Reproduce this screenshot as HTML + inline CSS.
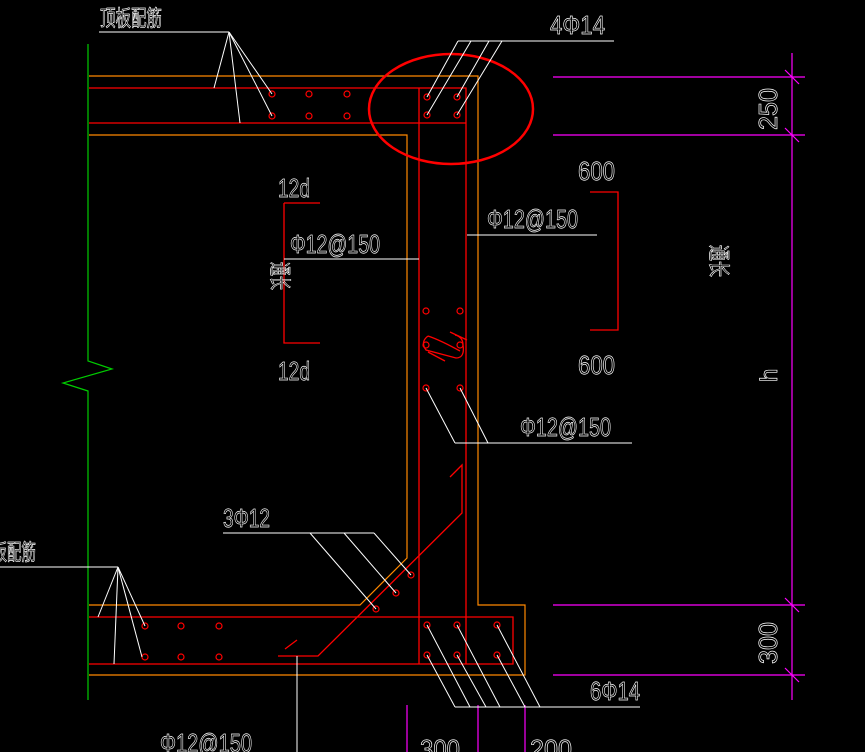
<!DOCTYPE html>
<html><head><meta charset="utf-8"><style>
html,body{margin:0;padding:0;background:#000;width:865px;height:752px;overflow:hidden}
svg{display:block}
text{font-family:"Liberation Sans Narrow","Liberation Sans","Noto Sans CJK SC",sans-serif;fill:none;stroke:#fff;stroke-width:0.7;font-weight:normal}
</style></head><body>
<svg width="865" height="752" viewBox="0 0 865 752" xmlns="http://www.w3.org/2000/svg">
<!-- green -->
<polyline points="88,44 88,361 112,369 63,383 88,391 88,700" fill="none" stroke="#0c0" stroke-width="1.2"/>
<!-- orange -->
<g fill="none" stroke="#f80" stroke-width="1.2">
<polyline points="89,76 478,76 478,605 525,605 525,675 89,675"/>
<polyline points="89,135 407,135 407,558 360,605 89,605"/>
</g>
<!-- red structure -->
<g fill="none" stroke="#f00" stroke-width="1.3">
<polyline points="89,88 466,88 466,664"/>
<line x1="89" y1="123" x2="466" y2="123"/>
<line x1="419" y1="88" x2="419" y2="664"/>
<polyline points="89,617 513,617 513,664 89,664"/>
<polyline points="284,203 320,203"/><polyline points="284,203 284,343 320,343"/>
<polyline points="590,192 618,192 618,330 590,330"/>
<polyline points="285,649 297,640"/>
<polyline points="278,656 318,656 462,513 462,465 450,477"/>
<path d="M428,336 Q420,342 426,350 L456,358 Q465,358 463,345 Q463,337 455,335" />
<path d="M428,336 Q440,340 460,351"/>
<line x1="450" y1="332" x2="467" y2="340"/>
<line x1="428" y1="352" x2="445" y2="361"/>
</g>
<g fill="none" stroke="#f00" stroke-width="2.5"><ellipse cx="451" cy="109" rx="82" ry="55"/></g>
<!-- rebar dots -->
<g fill="none" stroke="#f00" stroke-width="1.2">
<circle cx="272" cy="94" r="3"/><circle cx="309" cy="94" r="3"/><circle cx="347" cy="94" r="3"/>
<circle cx="272" cy="116" r="3"/><circle cx="309" cy="116" r="3"/><circle cx="347" cy="116" r="3"/>
<circle cx="427" cy="97" r="3"/><circle cx="457" cy="97" r="3"/><circle cx="427" cy="115" r="3"/><circle cx="457" cy="115" r="3"/>
<circle cx="426" cy="311" r="3"/><circle cx="460" cy="311" r="3"/><circle cx="426" cy="345" r="3"/><circle cx="460" cy="345" r="3"/>
<circle cx="426" cy="388" r="3"/><circle cx="460" cy="388" r="3"/>
<circle cx="411" cy="575" r="3"/><circle cx="396" cy="593" r="3"/><circle cx="376" cy="609" r="3"/>
<circle cx="145" cy="626" r="3"/><circle cx="181" cy="626" r="3"/><circle cx="219" cy="626" r="3"/>
<circle cx="145" cy="657" r="3"/><circle cx="181" cy="657" r="3"/><circle cx="219" cy="657" r="3"/>
<circle cx="427" cy="625" r="3"/><circle cx="457" cy="625" r="3"/><circle cx="497" cy="625" r="3"/>
<circle cx="427" cy="655" r="3"/><circle cx="457" cy="655" r="3"/><circle cx="497" cy="655" r="3"/>
</g>
<!-- magenta -->
<g fill="none" stroke="#f0f" stroke-width="1.2">
<line x1="553" y1="77" x2="805" y2="77"/><line x1="553" y1="135" x2="805" y2="135"/>
<line x1="553" y1="605" x2="805" y2="605"/><line x1="553" y1="675" x2="805" y2="675"/>
<line x1="792" y1="53" x2="792" y2="700"/>
<line x1="785" y1="70" x2="799" y2="84"/><line x1="785" y1="128" x2="799" y2="142"/>
<line x1="785" y1="598" x2="799" y2="612"/><line x1="785" y1="668" x2="799" y2="682"/>
<line x1="407" y1="705" x2="407" y2="752"/><line x1="478" y1="705" x2="478" y2="752"/><line x1="525" y1="705" x2="525" y2="752"/>
</g>
<!-- white leaders -->
<g fill="none" stroke="#fff" stroke-width="1">
<line x1="99" y1="32" x2="229" y2="32"/>
<line x1="229" y1="32" x2="214" y2="88"/><line x1="229" y1="32" x2="240" y2="123"/>
<line x1="229" y1="32" x2="272" y2="94"/><line x1="229" y1="32" x2="272" y2="116"/>
<line x1="458" y1="41" x2="614" y2="41"/>
<line x1="458" y1="41" x2="427" y2="97"/><line x1="471" y1="41" x2="427" y2="115"/>
<line x1="489" y1="41" x2="457" y2="97"/><line x1="502" y1="41" x2="457" y2="115"/>
<line x1="284" y1="259" x2="419" y2="259"/>
<line x1="467" y1="235" x2="597" y2="235"/>
<line x1="455" y1="443" x2="632" y2="443"/>
<line x1="426" y1="388" x2="455" y2="443"/><line x1="460" y1="388" x2="488" y2="443"/>
<line x1="223" y1="533" x2="374" y2="533"/>
<line x1="310" y1="533" x2="376" y2="609"/><line x1="344" y1="533" x2="396" y2="593"/><line x1="374" y1="533" x2="411" y2="575"/>
<line x1="0" y1="567" x2="118" y2="567"/>
<line x1="118" y1="567" x2="98" y2="617"/><line x1="118" y1="567" x2="114" y2="664"/>
<line x1="118" y1="567" x2="145" y2="626"/><line x1="118" y1="567" x2="142" y2="657"/>
<line x1="297" y1="656" x2="297" y2="752"/>
<line x1="455" y1="707" x2="640" y2="707"/>
<line x1="427" y1="655" x2="455" y2="707"/><line x1="427" y1="625" x2="470" y2="707"/>
<line x1="457" y1="655" x2="486" y2="707"/><line x1="457" y1="625" x2="500" y2="707"/>
<line x1="497" y1="655" x2="525" y2="707"/><line x1="497" y1="625" x2="540" y2="707"/>
</g>
<!-- text -->
<g font-size="26">
<text x="100" y="26" textLength="62" lengthAdjust="spacingAndGlyphs" font-size="22">顶板配筋</text>
<text x="550" y="34" textLength="55" lengthAdjust="spacingAndGlyphs">4Φ14</text>
<text x="278" y="197" textLength="32" lengthAdjust="spacingAndGlyphs">12d</text>
<text x="278" y="380" textLength="32" lengthAdjust="spacingAndGlyphs">12d</text>
<text x="290" y="253" textLength="90" lengthAdjust="spacingAndGlyphs">Φ12@150</text>
<text x="487" y="228" textLength="91" lengthAdjust="spacingAndGlyphs">Φ12@150</text>
<text x="578" y="180" textLength="37" lengthAdjust="spacingAndGlyphs">600</text>
<text x="578" y="374" textLength="37" lengthAdjust="spacingAndGlyphs">600</text>
<text x="520" y="436" textLength="91" lengthAdjust="spacingAndGlyphs">Φ12@150</text>
<text x="223" y="527" textLength="47" lengthAdjust="spacingAndGlyphs">3Φ12</text>
<text x="-22" y="560" textLength="58" lengthAdjust="spacingAndGlyphs" font-size="22">底板配筋</text>
<text x="590" y="700" textLength="50" lengthAdjust="spacingAndGlyphs">6Φ14</text>
<text x="160" y="752" textLength="92" lengthAdjust="spacingAndGlyphs">Φ12@150</text>
<text x="420" y="758" textLength="40" lengthAdjust="spacingAndGlyphs">300</text>
<text x="530" y="758" textLength="42" lengthAdjust="spacingAndGlyphs">200</text>
<text transform="translate(777,130) rotate(-90)" textLength="42" lengthAdjust="spacingAndGlyphs">250</text>
<text transform="translate(777,382) rotate(-90)" font-size="24">h</text>
<text transform="translate(777,664) rotate(-90)" textLength="42" lengthAdjust="spacingAndGlyphs">300</text>
<text transform="translate(272,262) rotate(90)" font-size="22" textLength="28" lengthAdjust="spacingAndGlyphs">通长</text>
<text transform="translate(711,245) rotate(90)" font-size="22" textLength="32" lengthAdjust="spacingAndGlyphs">通长</text>
</g>
</svg>
</body></html>
